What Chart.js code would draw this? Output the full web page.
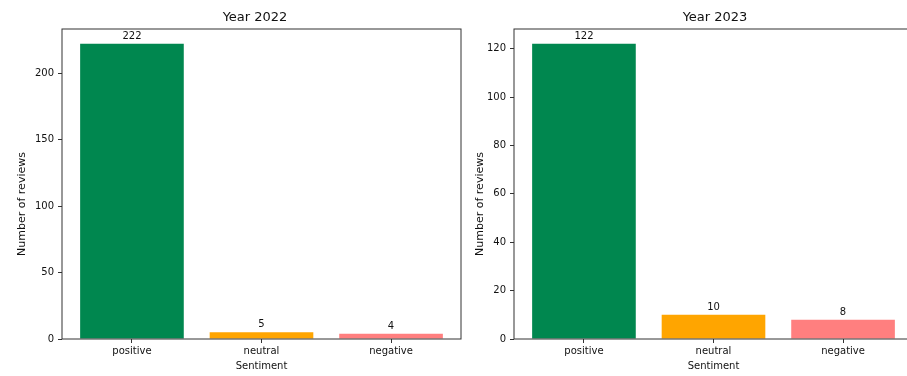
<!DOCTYPE html>
<html>
<head>
<meta charset="utf-8">
<script src="https://cdn.jsdelivr.net/npm/chart.js@4.4.1/dist/chart.umd.min.js"></script>
<style>
  html, body { margin: 0; padding: 0; background: #fff; overflow: hidden; }
  #wrap { position: relative; width: 907px; height: 376px; overflow: hidden; background: #fff; }
  canvas { position: absolute; top: 0; }
  #chart2022 { left: 0; }
  #chart2023 { left: 470px; }
</style>
</head>
<body>
<div id="wrap">
  <canvas id="chart2022" width="510" height="376"></canvas>
  <canvas id="chart2023" width="490" height="376"></canvas>
</div>
<script>
const sentiments = ['positive', 'neutral', 'negative'];
const barColors = ['#00874f', '#ffa500', '#ff7f7f'];
const reviews2022 = [222, 5, 4];
const reviews2023 = [122, 10, 8];
const yTicks2022 = [0, 50, 100, 150, 200];
const yTicks2023 = [0, 20, 40, 60, 80, 100, 120];

const FONT = "'DejaVu Sans', sans-serif";
const INK = '#111';

// top/right spines like matplotlib
const framePlugin = {
  id: 'frame',
  afterDatasetsDraw(chart) {
    const { ctx, chartArea: a } = chart;
    ctx.save();
    ctx.strokeStyle = '#333';
    ctx.lineWidth = 1;
    ctx.strokeRect(a.left, a.top, a.right - a.left, a.bottom - a.top);
    ctx.restore();
  }
};

// count above each bar
const valueLabels = {
  id: 'valueLabels',
  afterDatasetsDraw(chart) {
    const { ctx } = chart;
    const meta = chart.getDatasetMeta(0);
    const values = chart.data.datasets[0].data;
    ctx.save();
    ctx.font = '10px ' + FONT;
    ctx.fillStyle = INK;
    ctx.textAlign = 'center';
    ctx.textBaseline = 'alphabetic';
    meta.data.forEach((bar, i) => {
      ctx.fillText(String(values[i].y), bar.x, bar.y - 5);
    });
    ctx.restore();
  }
};

// y axis label, sits a bit below the middle of the axis in the original
const yLabel = {
  id: 'yLabel',
  afterDraw(chart, args, o) {
    const { ctx, chartArea: a } = chart;
    ctx.save();
    ctx.translate(o.x, (a.top + a.bottom) / 2 + 20);
    ctx.rotate(-Math.PI / 2);
    ctx.font = '11px ' + FONT;
    ctx.fillStyle = INK;
    ctx.textAlign = 'center';
    ctx.textBaseline = 'middle';
    ctx.fillText(o.text, 0, 0);
    ctx.restore();
  }
};

function makeChart(id, title, values, yTicks, opts) {
  const ctx = document.getElementById(id).getContext('2d');
  return new Chart(ctx, {
    type: 'bar',
    data: {
      datasets: [{
        data: values.map((v, i) => ({ x: i, y: v })),
        backgroundColor: barColors,
        borderWidth: 0,
        barPercentage: 0.8,
        categoryPercentage: 1.0
      }]
    },
    options: {
      responsive: false,
      animation: false,
      devicePixelRatio: 1,
      layout: { padding: 0 },
      scales: {
        x: {
          type: 'linear',
          offset: false,
          min: -0.54,
          max: sentiments.length - 1 + 0.54,
          afterBuildTicks: axis => { axis.ticks = sentiments.map((s, i) => ({ value: i })); },
          afterFit: axis => { axis.height = 37; },
          ticks: {
            callback: v => sentiments[v],
            color: INK,
            font: { family: FONT, size: 10 },
            padding: 2,
            maxRotation: 0,
            autoSkip: false
          },
          grid: { offset: false, drawOnChartArea: false, drawTicks: true, tickLength: 4, tickColor: '#333' },
          border: { display: false },
          title: {
            display: true,
            text: 'Sentiment',
            color: INK,
            font: { family: FONT, size: 10 },
            padding: { top: 0, bottom: 4 }
          }
        },
        y: {
          min: 0,
          max: Math.max(...values) * 1.05,
          afterBuildTicks: axis => { axis.ticks = yTicks.map(v => ({ value: v })); },
          afterFit: axis => { axis.width = opts.yWidth; },
          ticks: {
            color: INK,
            font: { family: FONT, size: 10 },
            padding: 4
          },
          grid: { drawOnChartArea: false, drawTicks: true, tickLength: 4, tickColor: '#333' },
          border: { display: false },
          title: { display: false }
        },
        // empty right-hand gap so the title centres where the original has it
        gap: {
          type: 'linear',
          position: 'right',
          afterFit: axis => { axis.width = opts.rightGap; },
          ticks: { display: false },
          grid: { display: false },
          border: { display: false }
        }
      },
      plugins: {
        legend: { display: false },
        tooltip: { enabled: false },
        title: {
          display: true,
          text: title,
          color: INK,
          font: { family: FONT, size: 13, weight: 'normal' },
          padding: { top: 10, bottom: 3.4 }
        },
        yLabel: { text: 'Number of reviews', x: opts.yTitleX }
      }
    },
    plugins: [framePlugin, valueLabels, yLabel]
  });
}

makeChart('chart2022', 'Year 2022', reviews2022, yTicks2022, { yWidth: 62, yTitleX: 22, rightGap: 49 });
makeChart('chart2023', 'Year 2023', reviews2023, yTicks2023, { yWidth: 44, yTitleX: 10.5, rightGap: 47 });
</script>
</body>
</html>
